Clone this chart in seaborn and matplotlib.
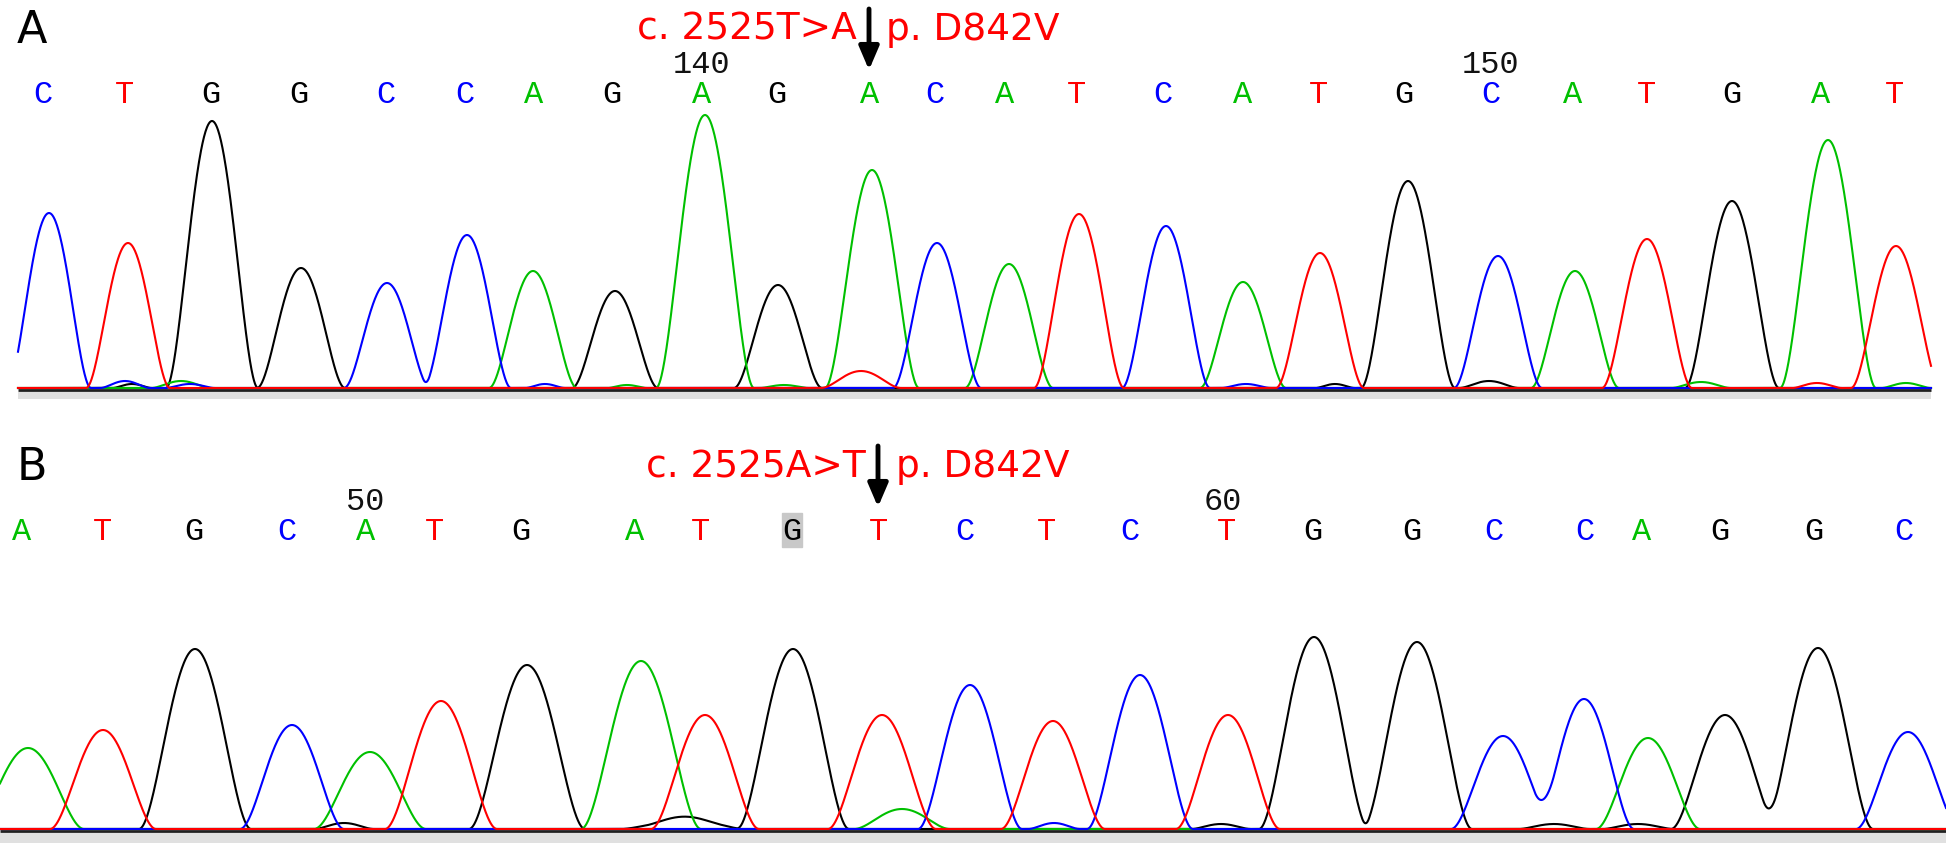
import numpy as np
import pandas as pd
import matplotlib
matplotlib.use("Agg")
import matplotlib.pyplot as plt
import seaborn as sns

# ---- panel A (c.2525T>A) ----
a_bases = list("CTGGCCAGAGACATCATGCATGAT")
a_call_x = [43, 125, 211, 299, 386, 465, 534, 612, 702, 777, 870, 935,
            1005, 1076, 1163, 1243, 1318, 1404, 1491, 1573, 1646, 1732, 1821, 1895]
a_peak_x = [49, 128, 212, 301, 387, 467, 533, 615, 705, 778, 872, 937,
            1009, 1079, 1166, 1243, 1320, 1408, 1498, 1575, 1647, 1732, 1828, 1896]
a_peak_h = [175, 145, 267, 120, 105, 153, 117, 97, 273, 103, 218, 145,
            124, 174, 162, 106, 135, 207, 132, 117, 149, 187, 248, 142]
# half width of each peak at its foot
a_peak_w = [42, 42, 46, 44, 43, 44, 44, 43, 49, 44, 47, 44,
            44, 45, 44, 43, 44, 47, 44, 44, 45, 47, 48, 45]
a_minor_base = list("TCGACCAACGGATA")
a_minor_x = [861, 125, 132, 181, 190, 545, 627, 784, 1246, 1335, 1489, 1701, 1817, 1906]
a_minor_h = [17, 7, 4, 7, 4, 4, 3, 3, 4, 4, 7, 6, 5, 5]
a_minor_w = [40, 25, 20, 30, 25, 20, 20, 25, 25, 20, 30, 30, 25, 25]
a_tick_lab = ["140", "150"]
a_tick_x = [702, 1491]
a_range = (18, 1931)

# ---- panel B (c.2525A>T) ----
b_bases = list("ATGCATGATGTCTCTGGCCAGGC")
b_call_x = [22, 102, 194, 287, 366, 435, 521, 635, 700, 792, 878, 965,
            1046, 1130, 1226, 1313, 1412, 1494, 1585, 1642, 1720, 1814, 1904]
b_peak_x = [28, 103, 195, 292, 370, 441, 527, 641, 705, 793, 882, 970,
            1053, 1140, 1228, 1314, 1417, 1503, 1584, 1648, 1725, 1818, 1908]
b_peak_h = [81, 99, 180, 104, 77, 128, 164, 168, 114, 180, 114, 144,
            108, 154, 114, 192, 187, 93, 130, 91, 114, 181, 97]
b_peak_w = [56, 53, 56, 52, 56, 56, 58, 60, 54, 56, 54, 52,
            52, 53, 52, 55, 55, 52, 50, 52, 54, 55, 52]
b_minor_base = list("GAGCGGGG")
b_minor_x = [695, 902, 1221, 1054, 1554, 1638, 344, 670]
b_minor_h = [8, 20, 5, 6, 5, 5, 6, 6]
b_minor_w = [50, 48, 30, 26, 36, 36, 30, 50]
b_tick_lab = ["50", "60"]
b_tick_x = [365, 1223]
b_range = (0, 1946)
b_grey_call = 9  # index of the highlighted call

colors = {"A": "#00c000", "C": "#0000ff", "G": "#000000", "T": "#ff0000"}


def build_traces(bases, xs, hs, ws, grid):
    frames = []
    for ch in ["G", "A", "C", "T"]:
        sig = np.zeros_like(grid)
        for b, x0, h, w in zip(bases, xs, hs, ws):
            if b == ch:
                u = np.clip(np.abs(grid - x0) / w, 0, 1)
                sig += h * (1 - u ** 2) ** 2
        frames.append(pd.DataFrame({"x": grid, "signal": sig, "base": ch}))
    return pd.concat(frames, ignore_index=True)


def draw_panel(ax, label, bases, call_x, px, ph, pw, mb, mx, mh, mw,
               tick_lab, tick_x, xr, ybase, strip, mut, arrow_x, mut_right, p_left):
    grid = np.arange(xr[0], xr[1] + 0.5, 0.5)
    df = build_traces(bases + mb, px + mx, ph + mh, pw + mw, grid)
    ax.hlines(-2, xr[0], xr[1], color="#202020", lw=2, zorder=1)
    ax.fill_between([xr[0], xr[1]], -strip, -4, color="#e0e0e0", lw=0, zorder=0)
    sns.lineplot(data=df, x="x", y="signal", hue="base",
                 hue_order=["G", "A", "C", "T"], palette=colors,
                 estimator=None, sort=False, legend=False, linewidth=1.5, ax=ax)
    for b, x in zip(bases, call_x):
        ax.text(x, ybase, b, color=colors[b], fontsize=23, family="Liberation Mono",
                ha="center", va="baseline")
    for t, x in zip(tick_lab, tick_x):
        ax.text(x, ybase + 30, t, color="#111111", fontsize=23, family="Liberation Mono",
                ha="center", va="baseline")
    ax.text(17, ybase + 60, label, fontsize=32, ha="left", va="baseline")
    ax.text(mut_right, ybase + 63, mut, color="#ff0000", fontsize=27,
            ha="right", va="baseline")
    ax.text(p_left, ybase + 63, "p. D842V", color="#ff0000", fontsize=27,
            ha="left", va="baseline")
    ax.annotate("", xy=(arrow_x, ybase + 33), xytext=(arrow_x, ybase + 94),
                arrowprops=dict(arrowstyle="-|>,head_width=0.3,head_length=0.7",
                                lw=3.5, color="black", mutation_scale=20,
                                shrinkA=0, shrinkB=0))
    ax.set_xlim(0, 1946)
    ax.axis("off")


fig = plt.figure(figsize=(19.46, 8.46), dpi=100)
ax_a = fig.add_axes([0, 446 / 846, 1, 400 / 846])
ax_a.set_ylim(-12, 388)
ax_b = fig.add_axes([0, 0, 1, 426 / 846])
ax_b.set_ylim(-17, 409)

draw_panel(ax_a, "A", a_bases, a_call_x, a_peak_x, a_peak_h, a_peak_w,
           a_minor_base, a_minor_x, a_minor_h, a_minor_w,
           a_tick_lab, a_tick_x, a_range, 285, 11, "c. 2525T>A", 869, 857, 886)
draw_panel(ax_b, "B", b_bases, b_call_x, b_peak_x, b_peak_h, b_peak_w,
           b_minor_base, b_minor_x, b_minor_h, b_minor_w,
           b_tick_lab, b_tick_x, b_range, 289, 14, "c. 2525A>T", 878, 866, 896)

# grey highlight behind the uncertain call in B
ax_b.axvspan(b_call_x[b_grey_call] - 10, b_call_x[b_grey_call] + 10,
             ymin=(282 + 17) / 426, ymax=(316 + 17) / 426, color="#c8c8c8", zorder=0)

fig.savefig("out.png", dpi=100, facecolor="white")
